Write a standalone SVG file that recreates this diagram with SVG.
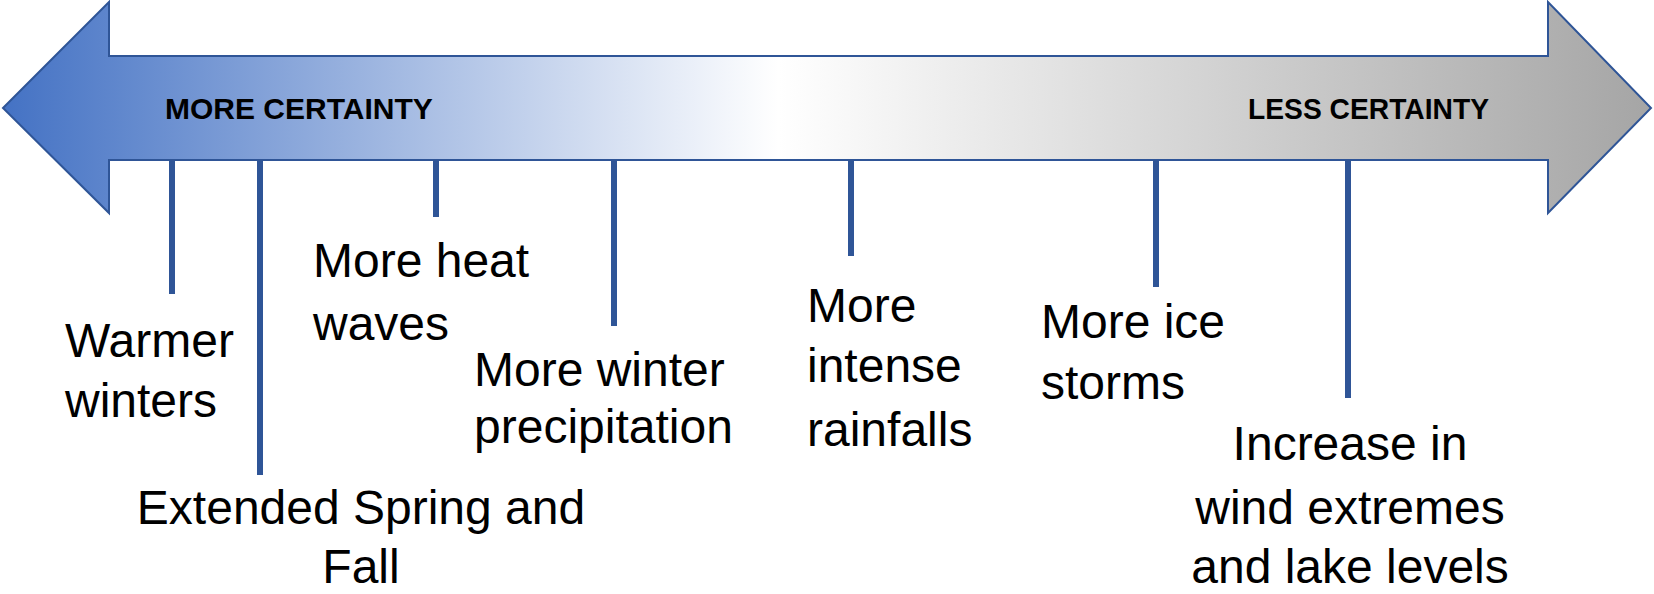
<svg xmlns="http://www.w3.org/2000/svg" width="1654" height="594" viewBox="0 0 1654 594">
  <defs>
    <linearGradient id="grad" x1="3" y1="0" x2="1653" y2="0" gradientUnits="userSpaceOnUse">
      <stop offset="0" stop-color="#4472C4"/>
      <stop offset="0.47" stop-color="#FFFFFF"/>
      <stop offset="1" stop-color="#A5A5A5"/>
    </linearGradient>
  </defs>
  <style>
    .hdr { font-family: "Liberation Sans", Arial, sans-serif; font-weight: bold; font-size: 30px; fill: #000; }
    .lbl { font-family: "Liberation Sans", Arial, sans-serif; font-size: 48px; fill: #000; }
    .mid { text-anchor: middle; }
    .conn { stroke: #2F5597; stroke-width: 6; fill: none; }
  </style>
  <rect width="1654" height="594" fill="#FFFFFF"/>
  <g id="arrow">
    <polygon points="3,108 109,2 109,56 1548,56 1548,2 1651,108 1548,213 1548,160 109,160 109,213" fill="url(#grad)" stroke="#2F5597" stroke-width="2" stroke-linejoin="miter"/>
    <text class="hdr" x="165" y="119">MORE CERTAINTY</text>
    <text class="hdr" x="1248" y="119" textLength="241" lengthAdjust="spacingAndGlyphs">LESS CERTAINTY</text>
  </g>
  <g id="connectors">
    <line class="conn" x1="172" y1="160" x2="172" y2="294"/>
    <line class="conn" x1="260" y1="160" x2="260" y2="475"/>
    <line class="conn" x1="436" y1="160" x2="436" y2="217"/>
    <line class="conn" x1="614" y1="160" x2="614" y2="326"/>
    <line class="conn" x1="851" y1="160" x2="851" y2="256"/>
    <line class="conn" x1="1156" y1="160" x2="1156" y2="287"/>
    <line class="conn" x1="1348" y1="160" x2="1348" y2="398"/>
  </g>
  <g id="warmer-winters">
    <text class="lbl" x="65" y="357">Warmer</text>
    <text class="lbl" x="65" y="417">winters</text>
  </g>
  <g id="extended-spring-fall">
    <text class="lbl mid" x="361" y="524">Extended Spring and</text>
    <text class="lbl mid" x="361" y="583">Fall</text>
  </g>
  <g id="heat-waves">
    <text class="lbl" x="313" y="277">More heat</text>
    <text class="lbl" x="313" y="340">waves</text>
  </g>
  <g id="winter-precipitation">
    <text class="lbl" x="474" y="386">More winter</text>
    <text class="lbl" x="474" y="443">precipitation</text>
  </g>
  <g id="intense-rainfalls">
    <text class="lbl" x="807" y="322">More</text>
    <text class="lbl" x="807" y="382">intense</text>
    <text class="lbl" x="807" y="446">rainfalls</text>
  </g>
  <g id="ice-storms">
    <text class="lbl" x="1041" y="338">More ice</text>
    <text class="lbl" x="1041" y="399">storms</text>
  </g>
  <g id="wind-lake">
    <text class="lbl mid" x="1350" y="460">Increase in</text>
    <text class="lbl mid" x="1350" y="524">wind extremes</text>
    <text class="lbl mid" x="1350" y="583">and lake levels</text>
  </g>
</svg>
